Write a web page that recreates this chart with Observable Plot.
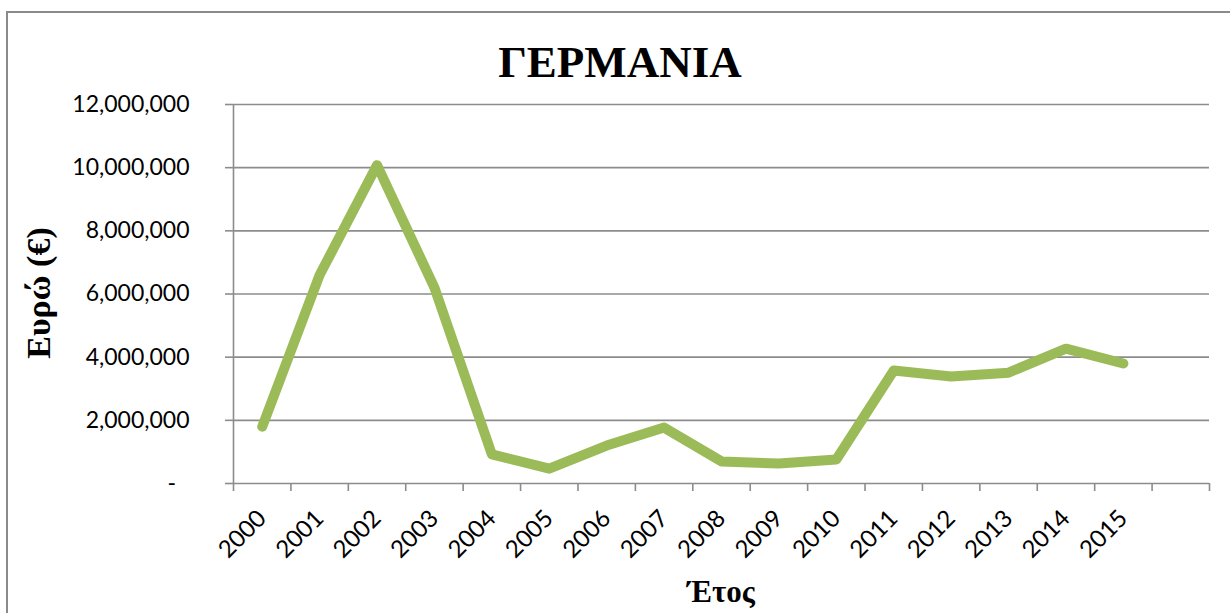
<!DOCTYPE html>
<html>
<head>
<meta charset="utf-8">
<script src="https://cdn.jsdelivr.net/npm/d3@7"></script>
<script src="https://cdn.jsdelivr.net/npm/@observablehq/plot@0.6"></script>
<style>
  body { margin: 0; background: #fff; }
  #wrap { position: relative; width: 1230px; height: 613px; overflow: hidden; background: #fff; }
  #border { position: absolute; left: 6px; top: 11px; width: 1240px; height: 700px; border: 2px solid #8a8a8a; box-sizing: border-box; }
  #chart { position: absolute; left: 0; top: 0; }
  .serif { font-family: "Liberation Serif", serif; font-weight: bold; color: #000; position: absolute; white-space: nowrap; }
  #title { font-size: 45px; line-height: 45px; left: 620px; top: 40px; transform: translateX(-50%); }
  #ylab { font-size: 34px; line-height: 34px; left: 39px; top: 293px; transform: translate(-50%, -50%) rotate(-90deg); }
  #xlab { font-size: 31px; line-height: 31px; left: 721px; top: 576px; transform: translateX(-50%); }
</style>
</head>
<body>
<div id="wrap">
  <div id="border"></div>
  <div id="chart"></div>
  <div id="title" class="serif">ΓΕΡΜΑΝΙΑ</div>
  <div id="ylab" class="serif">Ευρώ (€)</div>
  <div id="xlab" class="serif">Έτος</div>
</div>
<script>
const years = [2000, 2001, 2002, 2003, 2004, 2005, 2006, 2007, 2008, 2009, 2010, 2011, 2012, 2013, 2014, 2015];
const values = [1800000, 6600000, 10080000, 6200000, 920000, 470000, 1200000, 1770000, 700000, 630000, 760000, 3580000, 3390000, 3510000, 4270000, 3800000];
const yTicks = [0, 2000000, 4000000, 6000000, 8000000, 10000000, 12000000];
const xDomain = [1999.5, 2016.5];

const data = years.map((y, i) => ({year: y, value: values[i]}));
const boundaries = d3.range(xDomain[0], xDomain[1] + 0.01, 1);
const grid = "#8c8c8c";

const chart = Plot.plot({
  width: 1230,
  height: 613,
  marginLeft: 233,
  marginRight: 21,
  marginTop: 104,
  marginBottom: 130,
  style: { fontFamily: "Lato, 'Open Sans', sans-serif", fontSize: "23px", color: "#000", background: "transparent" },
  x: { type: "linear", domain: xDomain },
  y: { domain: [0, 12000000] },
  marks: [
    Plot.ruleY(yTicks, { stroke: grid, strokeWidth: 1.6 }),
    Plot.ruleX([xDomain[0]], { y1: 0, y2: 12000000, stroke: grid, strokeWidth: 1.6 }),
    Plot.axisY({
      ticks: yTicks,
      tickSize: 8,
      tickPadding: 36,
      stroke: grid,
      strokeWidth: 1.6,
      fill: "#000",
      tickFormat: d => d === 0 ? "-\u2007" : d3.format(",")(d),
      label: null
    }),
    Plot.axisX({
      ticks: boundaries,
      tickSize: 8,
      stroke: grid,
      strokeWidth: 1.6,
      tickFormat: () => "",
      label: null
    }),
    Plot.axisX({
      ticks: years,
      tickSize: 0,
      tickPadding: 31,
      tickRotate: -45,
      fill: "#000",
      fontSize: 24,
      tickFormat: d => String(d),
      label: null
    }),
    Plot.line(data, {
      x: "year",
      y: "value",
      stroke: "#9BBB59",
      strokeWidth: 10,
      strokeLinecap: "round",
      strokeLinejoin: "round"
    })
  ]
});
document.getElementById("chart").appendChild(chart);
</script>
</body>
</html>
